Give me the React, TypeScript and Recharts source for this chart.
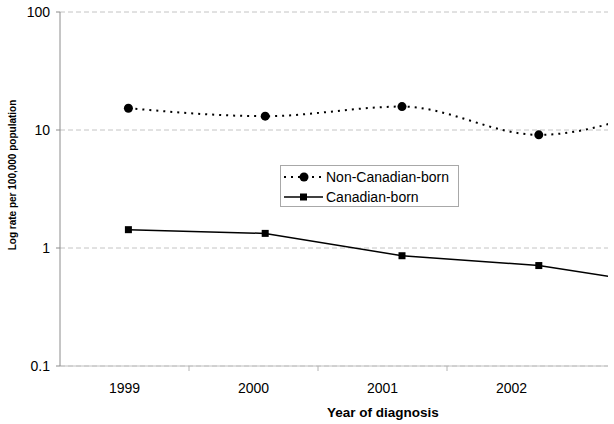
import React from "react"
import { LineChart, Line, XAxis, YAxis, CartesianGrid, Legend } from "recharts"

const FONT = '"Liberation Sans", Arial, sans-serif'

// 2003 sits past the right edge of the picture, the lines run off toward it
const years = ["1999", "2000", "2001", "2002", "2003"]
const nonCanadianBorn = [15.3, 13.1, 15.8, 9.1, 17.5]
const canadianBorn = [1.43, 1.33, 0.86, 0.71, 0.47]
const xTickLabels = ["1999", "2000", "2001", "2002"]
const yTicks = [0.1, 1, 10, 100]

const chartData = years.map((year, i) => ({
  year,
  nonCanadian: nonCanadianBorn[i],
  canadian: canadianBorn[i],
}))

const LABEL_BAND = 129

function YearTick(props: any) {
  const { x, y, payload, index } = props
  const edge = x - LABEL_BAND / 2
  return (
    <g>
      {index > 0 && (
        <line x1={edge} x2={edge} y1={y} y2={y + 5} stroke="#b4b4b4" />
      )}
      <text
        x={x}
        y={y + 27}
        textAnchor="middle"
        fontSize={14}
        fontFamily={FONT}
        fill="#000"
      >
        {payload.value}
      </text>
    </g>
  )
}

function CircleDot(props: any) {
  const { cx, cy } = props
  return <circle cx={cx} cy={cy} r={4.5} fill="#000" />
}

function SquareDot(props: any) {
  const { cx, cy } = props
  return <rect x={cx - 3.5} y={cy - 3.5} width={7} height={7} fill="#000" />
}

function ChartLegend() {
  return (
    <svg width={179} height={42} style={{ display: "block" }}>
      <rect x={0.5} y={0.5} width={178} height={41} fill="#fff" stroke="#a8a8a8" />
      <line x1={4} x2={44} y1={12} y2={12} stroke="#000" strokeWidth={2} strokeDasharray="2 5" />
      <circle cx={24} cy={12} r={4.5} fill="#000" />
      <text x={46} y={12} dominantBaseline="central" fontSize={14} fontFamily={FONT} fill="#000">
        Non-Canadian-born
      </text>
      <line x1={4} x2={43} y1={32} y2={32} stroke="#000" strokeWidth={1.5} />
      <rect x={20} y={28.5} width={7} height={7} fill="#000" />
      <text x={46} y={32} dominantBaseline="central" fontSize={14} fontFamily={FONT} fill="#000">
        Canadian-born
      </text>
    </svg>
  )
}

export default function App() {
  return (
    <div
      style={{
        position: "absolute",
        left: 0,
        top: 0,
        width: 608,
        height: 424,
        overflow: "hidden",
        background: "#fff",
      }}
    >
      <LineChart
        width={744}
        height={424}
        data={chartData}
        margin={{ top: 12, right: 0, bottom: 0, left: 0 }}
      >
        <CartesianGrid
          xAxisId="d"
          vertical={false}
          stroke="#c4c4c4"
          strokeDasharray="5 3"
        />
        <XAxis xAxisId="d" dataKey="year" scale="band" hide height={0} />
        <XAxis
          xAxisId="lab"
          dataKey="year"
          scale="band"
          ticks={xTickLabels}
          interval={0}
          padding={{ left: 0, right: 39 }}
          height={58}
          tickSize={0}
          tickMargin={0}
          tickLine={false}
          tick={YearTick}
          axisLine={{ stroke: "#c0c0c0" }}
          label={{
            content: () => (
              <text
                x={383}
                y={412}
                textAnchor="middle"
                dominantBaseline="central"
                fontSize={13.5}
                fontWeight="bold"
                fontFamily={FONT}
                fill="#000"
              >
                Year of diagnosis
              </text>
            ),
          }}
        />
        <YAxis
          type="number"
          scale="log"
          domain={[0.1, 100]}
          ticks={yTicks}
          allowDataOverflow
          interval={0}
          width={60}
          axisLine={{ stroke: "#8c8c8c" }}
          tickLine={{ stroke: "#8c8c8c" }}
          tickSize={4}
          tickMargin={6}
          tick={{ fill: "#000", fontSize: 14, fontFamily: FONT }}
          label={{
            content: () => (
              <text
                x={12}
                y={175}
                transform="rotate(-90 12 175)"
                textAnchor="middle"
                dominantBaseline="central"
                fontSize={10}
                fontWeight="bold"
                fontFamily={FONT}
                fill="#000"
              >
                Log rate per 100,000 population
              </text>
            ),
          }}
        />
        <Legend
          layout="vertical"
          align="center"
          verticalAlign="middle"
          content={() => <ChartLegend />}
          wrapperStyle={{ position: "absolute", left: 280, top: 165, width: 179, height: 42 }}
        />
        <Line
          xAxisId="d"
          dataKey="nonCanadian"
          name="Non-Canadian-born"
          type="monotone"
          stroke="#000"
          strokeWidth={2}
          strokeDasharray="2 5"
          dot={(p: any) => <CircleDot key={`n-${p.index}`} {...p} />}
          activeDot={false}
          isAnimationActive={false}
        />
        <Line
          xAxisId="d"
          dataKey="canadian"
          name="Canadian-born"
          type="linear"
          stroke="#000"
          strokeWidth={1.5}
          dot={(p: any) => <SquareDot key={`c-${p.index}`} {...p} />}
          activeDot={false}
          isAnimationActive={false}
        />
      </LineChart>
    </div>
  )
}
